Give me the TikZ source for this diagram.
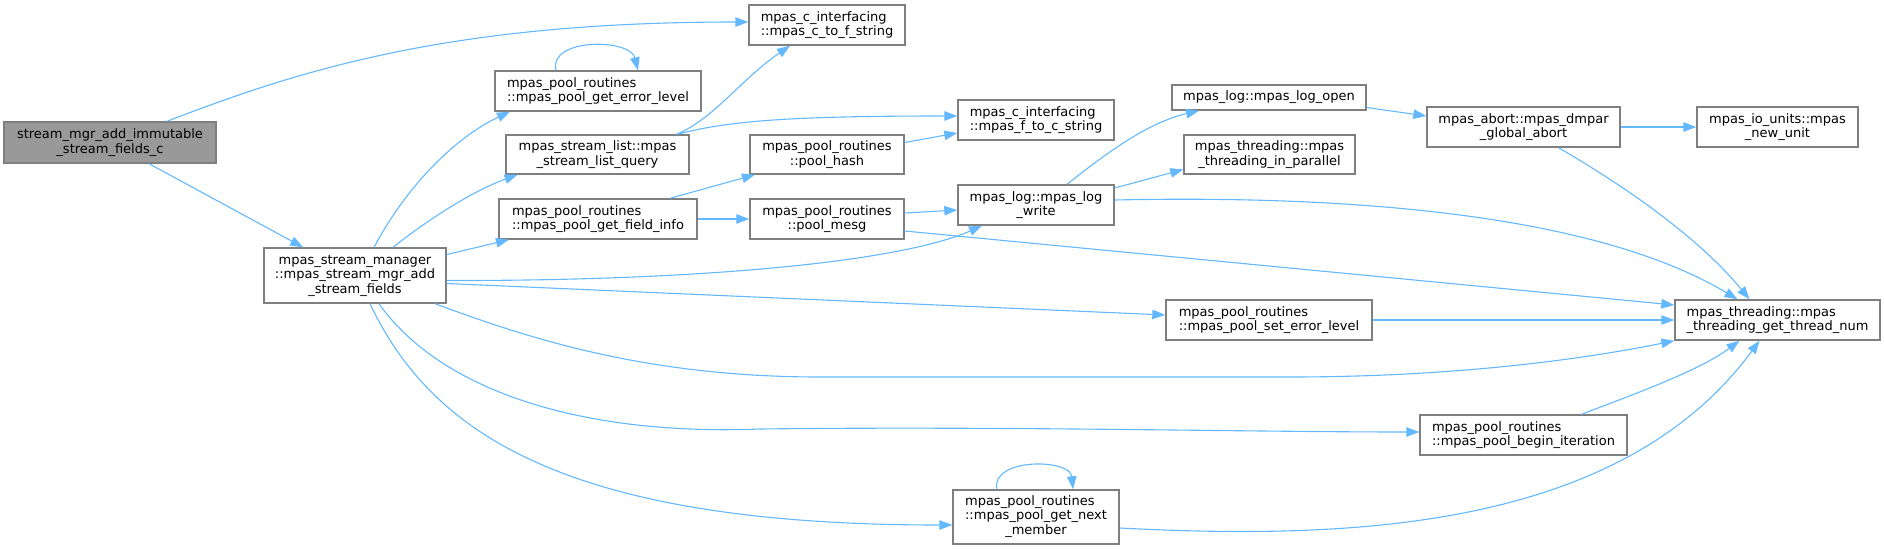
\documentclass[tikz,border=0pt]{standalone}
\usepackage{fontspec}
\setmainfont{DejaVu Sans}
\usetikzlibrary{arrows.meta}
\definecolor{edgeblue}{HTML}{63B8FF}
\definecolor{boxgray}{HTML}{7F7F7F}
\definecolor{rootfill}{HTML}{999999}

\begin{document}
\begin{tikzpicture}[
    x=1pt, y=-1pt,
    func/.style={rectangle, draw=boxgray, line width=1.4pt, fill=white, inner sep=0pt, font=\fontsize{13}{14.5}\selectfont, text=black},
    mainfunc/.style={func, fill=rootfill},
    call/.style={draw=edgeblue, line width=1.1pt, -{Triangle[length=13pt,width=9.5pt]}}
]
    \useasboundingbox (0,0) rectangle (1884,550);

    % Columna 0-1
    \node[mainfunc, minimum width=212pt, minimum height=41pt, align=center] (root) at (110,142.5) {stream\_mgr\_add\_immutable\\\_stream\_fields\_c};
    \node[func, minimum width=182pt, minimum height=55pt, align=center] (mgr) at (355,275.5) {mpas\_stream\_manager\\::mpas\_stream\_mgr\_add\\\_stream\_fields};

    % Columna 2
    \node[func, minimum width=206pt, minimum height=40pt, align=left] (errlvl) at (598,91) {mpas\_pool\_routines\\::mpas\_pool\_get\_error\_level};
    \node[func, minimum width=183pt, minimum height=39pt, align=center] (lstq) at (597.5,154.5) {mpas\_stream\_list::mpas\\\_stream\_list\_query};
    \node[func, minimum width=198pt, minimum height=40pt, align=left] (finfo) at (598,219) {mpas\_pool\_routines\\::mpas\_pool\_get\_field\_info};

    % Columna 3
    \node[func, minimum width=156pt, minimum height=40pt, align=left] (ctof) at (827,25) {mpas\_c\_interfacing\\::mpas\_c\_to\_f\_string};
    \node[func, minimum width=154pt, minimum height=39pt, align=center] (phash) at (827,154.5) {mpas\_pool\_routines\\::pool\_hash};
    \node[func, minimum width=154pt, minimum height=40pt, align=center] (pmesg) at (827,219) {mpas\_pool\_routines\\::pool\_mesg};

    % Columna 4
    \node[func, minimum width=156pt, minimum height=40pt, align=left] (ftoc) at (1036,120) {mpas\_c\_interfacing\\::mpas\_f\_to\_c\_string};
    \node[func, minimum width=156pt, minimum height=40pt, align=center] (lwrite) at (1036,205) {mpas\_log::mpas\_log\\\_write};
    \node[func, minimum width=166pt, minimum height=54pt] (nextmem) at (1036,517) {\begin{tabular}{@{}l@{}}mpas\_pool\_routines\\::mpas\_pool\_get\_next\\\multicolumn{1}{@{}c@{}}{\_member}\end{tabular}};

    % Columna 5
    \node[func, minimum width=194pt, minimum height=25pt] (lopen) at (1269,97.5) {mpas\_log::mpas\_log\_open};
    \node[func, minimum width=171pt, minimum height=39pt, align=center] (inpar) at (1269.5,154.5) {mpas\_threading::mpas\\\_threading\_in\_parallel};
    \node[func, minimum width=206pt, minimum height=40pt, align=left] (seterr) at (1269,320) {mpas\_pool\_routines\\::mpas\_pool\_set\_error\_level};

    % Columna 6-7
    \node[func, minimum width=193pt, minimum height=40pt, align=center] (gabort) at (1523.5,127) {mpas\_abort::mpas\_dmpar\\\_global\_abort};
    \node[func, minimum width=207pt, minimum height=40pt, align=left] (beginit) at (1523.5,435) {mpas\_pool\_routines\\::mpas\_pool\_begin\_iteration};
    \node[func, minimum width=161pt, minimum height=40pt, align=center] (newunit) at (1777.5,127) {mpas\_io\_units::mpas\\\_new\_unit};
    \node[func, minimum width=205pt, minimum height=40pt, align=left] (thrnum) at (1777.5,320) {mpas\_threading::mpas\\\_threading\_get\_thread\_num};

    % Crides des de l'arrel
    \draw[call] ([xshift=57pt]root.north) .. controls (300,70) and (450,22) .. ([yshift=3pt]ctof.west);
    \draw[call] (root) -- (mgr);

    % Crides de mgr
    \draw[call] ([xshift=19pt]mgr.north) .. controls (410,180) and (460,135) .. ([xshift=-88pt]errlvl.south);
    \draw[call] ([xshift=38pt]mgr.north) .. controls (425,222) and (470,192) .. ([xshift=-80pt]lstq.south);
    \draw[call] ([yshift=21pt]mgr.east) -- ([xshift=-89pt]finfo.south);
    \draw[call] ([yshift=-5pt]mgr.east) .. controls (700,281) and (900,262) .. ([xshift=-54pt]lwrite.south);
    \draw[call] ([yshift=-8pt]mgr.east) -- ([yshift=5pt]seterr.west);
    \draw[call] ([xshift=80pt]mgr.south) .. controls (520,335) and (640,377) .. (820,377) -- (1290,377) .. controls (1450,377) and (1580,360) .. (thrnum.south west);
    \draw[call] ([xshift=24pt]mgr.south) .. controls (440,390) and (580,436) .. (760,429) .. controls (1000,426) and (1250,432) .. ([yshift=3pt]beginit.west);
    \draw[call] ([xshift=15pt]mgr.south) .. controls (430,430) and (560,525) .. ([yshift=-8pt]nextmem.west);

    % Recursiva
    \draw[call] ([xshift=-42pt]errlvl.north) .. controls (548,38) and (630,38) .. ([xshift=40pt]errlvl.north);

    % Columna 2 -> 3, 4
    \draw[call] ([xshift=79pt]lstq.north) .. controls (715,118) and (740,80) .. ([xshift=-37pt]ctof.south);
    \draw[call] ([xshift=80pt]lstq.north) .. controls (730,120) and (800,116) .. ([yshift=4pt]ftoc.west);
    \draw[call] ([xshift=72pt]finfo.north) -- ([xshift=-72pt]phash.south);
    \draw[call] (finfo.east) -- (pmesg.west);

    % Columna 3 -> 4, 7
    \draw[call] ([yshift=12pt]phash.east) -- ([yshift=-13pt]ftoc.west);
    \draw[call] ([yshift=6pt]pmesg.east) -- ([yshift=-5pt]lwrite.west);
    \draw[call] ([yshift=-12pt]pmesg.east) -- ([yshift=15pt]thrnum.west);

    % Log
    \draw[call] ([xshift=31pt]lwrite.north) .. controls (1110,150) and (1150,122) .. ([xshift=-70pt]lopen.south);
    \draw[call] ([yshift=17pt]lwrite.east) -- ([yshift=-15pt]inpar.west);
    \draw[call] ([yshift=5pt]lwrite.east) .. controls (1300,196) and (1580,205) .. ([xshift=-40pt]thrnum.north);
    \draw[call] ([yshift=-10pt]lopen.east) -- ([yshift=11pt]gabort.west);

    % Abort
    \draw[call] (gabort.east) -- (newunit.west);
    \draw[call] ([xshift=35pt]gabort.south) .. controls (1640,195) and (1705,245) .. ([xshift=-28pt]thrnum.north);

    % Cap a thread_num
    \draw[call] (seterr.east) -- (thrnum.west);
    \draw[call] ([xshift=58pt]beginit.north) .. controls (1640,392) and (1700,370) .. ([xshift=-38pt]thrnum.south);
    \draw[call] ([yshift=-11pt]nextmem.east) .. controls (1350,540) and (1620,530) .. ([xshift=-18pt]thrnum.south);
    \draw[call] ([xshift=-39pt]nextmem.north) .. controls (990,458) and (1070,458) .. ([xshift=37pt]nextmem.north);
\end{tikzpicture}
\end{document}
